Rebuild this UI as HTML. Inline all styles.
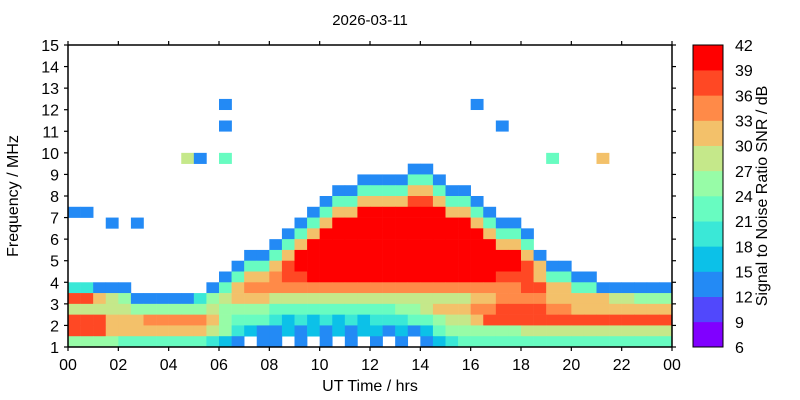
<!DOCTYPE html>
<html><head><meta charset="utf-8">
<style>
html,body{margin:0;padding:0;background:#fff;}
svg{display:block;font-family:"Liberation Sans",Arial,sans-serif;}
</style></head>
<body>
<svg id="chart" width="800" height="400" viewBox="0 0 800 400" xmlns="http://www.w3.org/2000/svg">
<text x="370" y="25" font-size="15" text-anchor="middle">2026-03-11</text>
<g id="cells"></g>
<g id="axes"></g>
<g id="cbar"></g>
<text x="370" y="391" font-size="16" text-anchor="middle">UT Time / hrs</text>
<text transform="translate(18,196) rotate(-90)" font-size="16" text-anchor="middle">Frequency / MHz</text>
<text transform="translate(767,196) rotate(-90)" font-size="16" text-anchor="middle">Signal to Noise Ratio SNR / dB</text>
</svg>
<script>
// Time bins: 48 half-hour columns (0..24 h). Frequency rows: 0.5 MHz, listed from 14.5 MHz down to 1.0 MHz.
const timeStepHours = 0.5;
const freqRowLower = [14.5,14,13.5,13,12.5,12,11.5,11,10.5,10,9.5,9,8.5,8,7.5,7,6.5,6,5.5,5,4.5,4,3.5,3,2.5,2,1.5,1];
const freqStep = 0.5;
// SNR bin code per cell: '.' = no data, 0..9,a,b = bins 6-9 ... 39-42 dB
const snrRows = [
"........ ........ ........ ........ ........ ........",
"........ ........ ........ ........ ........ ........",
"........ ........ ........ ........ ........ ........",
"........ ........ ........ ........ ........ ........",
"........ ........ ........ ........ ........ ........",
"........ ....2... ........ ........ 2....... ........",
"........ ........ ........ ........ ........ ........",
"........ ....2... ........ ........ ..2..... ........",
"........ ........ ........ ........ ........ ........",
"........ ........ ........ ........ ........ ........",
"........ .72.5... ........ ........ ......5. ..8.....",
"........ ........ ........ ...22... ........ ........",
"........ ........ .......2 222552.. ........ ........",
"........ ........ .....225 55588522 ........ ........",
"........ ........ ....2558 888aa855 2....... ........",
"22...... ........ ...2588b bbbbbb88 52...... ........",
"...2.2.. ........ ..258bbb bbbbbbbb 8522.... ........",
"........ ........ .258bbbb bbbbbbbb b8552... ........",
"........ ........ 258bbbbb bbbbbbbb bb885... ........",
"........ ......22 58bbbbbb bbbbbbbb bbbb82.. ........",
"........ .....255 8abbbbbb bbbbbbbb bbbba822 ........",
"........ ....2588 9aabbbbb bbbbbbbb bbaaa855 22......",
"44222... ...25899 99999999 99999999 9999aa88 55222222",
"aa876222 22467888 77777777 77777777 88999988 88877666",
"77777666 66676666 55555555 55667888 99aaaa99 88888888",
"aaa88899 99986555 43434343 44455677 8aaaaaaa aaaaaaaa",
"aaa88888 88876432 23232323 32323566 66667777 77777777",
"66665555 555432.2 2.2.2.2. 2.2.2345 55555555 55555555"
];
const xTickLabels = ["00","02","04","06","08","10","12","14","16","18","20","22","00"];
const yTickLabels = ["1","2","3","4","5","6","7","8","9","10","11","12","13","14","15"];
const cbarTickLabels = ["6","9","12","15","18","21","24","27","30","33","36","39","42"];

const NS="http://www.w3.org/2000/svg";
const X0=68,X1=672,Y0=347,Y1=45;
const xs=h=>X0+(h/24)*(X1-X0);
const ys=f=>Y0-(f-1)/14*(Y0-Y1);
function color(k){const t=k/11;const r=Math.min(1,Math.abs(2*t-0.5)),g=Math.sin(Math.PI*t),b=Math.cos(Math.PI*t/2);
return `rgb(${Math.round(r*255)},${Math.round(g*255)},${Math.round(b*255)})`;}
function mk(tag,attrs,parent){const e=document.createElementNS(NS,tag);for(const k in attrs)e.setAttribute(k,attrs[k]);parent.appendChild(e);return e;}

const cells=document.getElementById('cells');
snrRows.forEach((row,ri)=>{
  const s=row.replace(/ /g,'');
  for(let c=0;c<s.length;c++){
    const ch=s[c]; if(ch==='.')continue;
    const k=parseInt(ch,16);
    const f=freqRowLower[ri];
    const x=xs(c*timeStepHours), x2=xs((c+1)*timeStepHours);
    const y=ys(f+freqStep), y2=ys(f);
    const r=mk('rect',{x:x,y:y,width:x2-x+0.3,height:y2-y+0.3,fill:color(k)},cells);
    
    
  }
});

const ax=document.getElementById('axes');
mk('line',{x1:X0,y1:Y1,x2:X0,y2:Y0,stroke:'#000','stroke-width':1.5},ax);
mk('line',{x1:X0,y1:Y0,x2:X1,y2:Y0,stroke:'#000','stroke-width':1.5},ax);
mk('line',{x1:X0,y1:Y1,x2:X1,y2:Y1,stroke:'#000','stroke-width':1.5},ax);
mk('line',{x1:X1,y1:Y1,x2:X1,y2:Y0,stroke:'#000','stroke-width':1.5},ax);
xTickLabels.forEach((lab,i)=>{
  const x=xs(i*2);
  mk('line',{x1:x,y1:Y0,x2:x,y2:Y0+4,stroke:'#000','stroke-width':1.2},ax);
  mk('line',{x1:x,y1:Y1,x2:x,y2:Y1-4,stroke:'#000','stroke-width':1.2},ax);
  const t=mk('text',{x:x,y:Y0+23,'font-size':16,'text-anchor':'middle'},ax);
  t.textContent=lab;
  
  
});
yTickLabels.forEach((lab,i)=>{
  const y=ys(+lab);
  mk('line',{x1:X0-4,y1:y,x2:X0,y2:y,stroke:'#000','stroke-width':1.2},ax);
  mk('line',{x1:X1,y1:y,x2:X1+4,y2:y,stroke:'#000','stroke-width':1.2},ax);
  const t=mk('text',{x:X0-9,y:y+6,'font-size':16,'text-anchor':'end'},ax);
  t.textContent=lab;
  
  
});

const cb=document.getElementById('cbar');
const CX=693,CW=30,CT=45,CB=347;
const cy=v=>CB-(v-6)/36*(CB-CT);
for(let k=0;k<12;k++){
  const r=mk('rect',{x:CX,y:cy(6+3*(k+1)),width:CW,height:cy(6+3*k)-cy(6+3*(k+1))+0.3,fill:color(k)},cb);
  
  
}
mk('rect',{x:CX,y:CT,width:CW,height:CB-CT,fill:'none',stroke:'#000','stroke-width':1},cb);
cbarTickLabels.forEach(lab=>{
  const t=mk('text',{x:735,y:cy(+lab)+6,'font-size':16},cb);
  t.textContent=lab;
  
  
});
</script>
</body></html>
